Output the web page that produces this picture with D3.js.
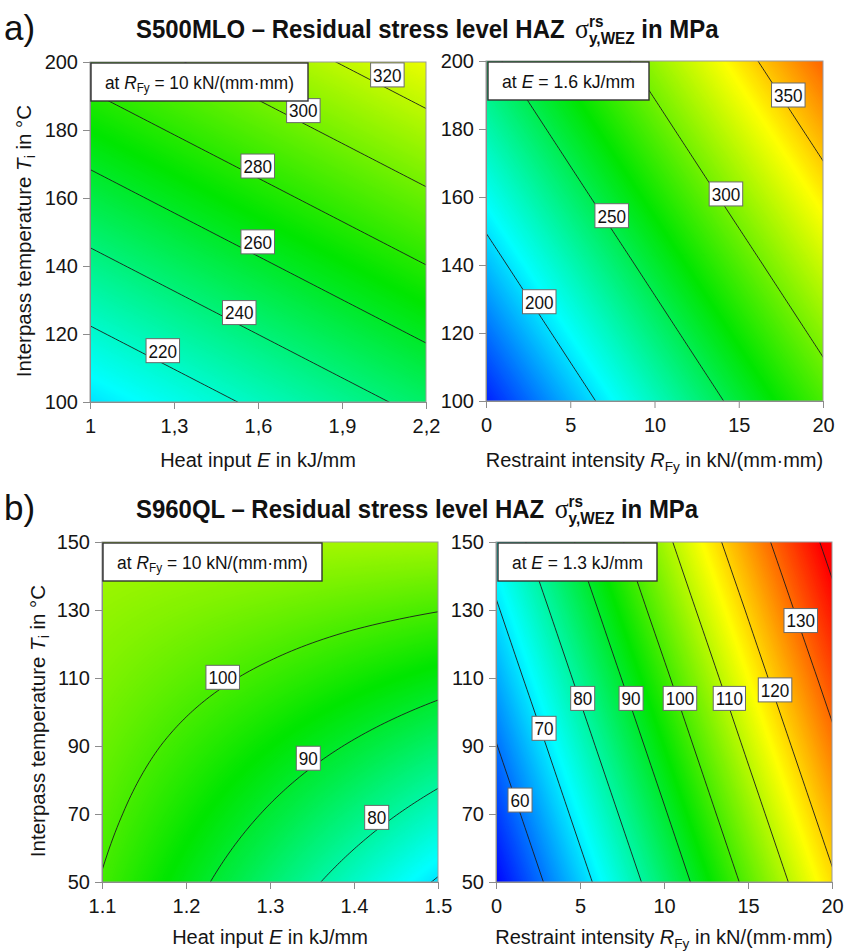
<!DOCTYPE html>
<html>
<head>
<meta charset="utf-8">
<script src="https://cdn.jsdelivr.net/npm/d3@7"></script>
<style>
  body { margin: 0; background: #fff; }
  text { font-family: "Liberation Sans", Arial, sans-serif; }
</style>
</head>
<body>
<svg id="chart" width="853" height="952"></svg>
<script>
// values (stress in MPa at grid nodes, rows = temperature)

// a) S500MLO, left: heat input vs interpass temperature
const aLeftHeat = [1, 1.3, 1.6, 1.9, 2.2];
const aLeftTemp = [100, 120, 140, 160, 180, 200];
const aLeftStress = [
  [200.5, 211.6, 222.7, 233.8, 244.9],
  [217.9, 229.0, 240.1, 251.2, 262.3],
  [235.3, 246.4, 257.5, 268.6, 279.7],
  [252.7, 263.8, 274.9, 286.0, 297.1],
  [270.1, 281.2, 292.3, 303.4, 314.5],
  [287.5, 298.6, 309.7, 320.8, 331.9]
];
const aLeftLevels = [220, 240, 260, 280, 300, 320];
// [level, E, T] where the label box sits
const aLeftLabels = [[320, 2.062, 196.2], [300, 1.762, 185.7], [280, 1.599, 169.4],
                     [260, 1.599, 147.1], [240, 1.533, 126.3], [220, 1.26, 115.1]];

// a) S500MLO, right: restraint intensity vs interpass temperature
const aRightRestraint = [0, 5, 10, 15, 20];
const aRightTemp = [100, 120, 140, 160, 180, 200];
const aRightStress = [
  [157.2, 190.1, 223.0, 255.9, 288.8],
  [174.5, 207.4, 240.3, 273.2, 306.1],
  [191.8, 224.7, 257.6, 290.5, 323.4],
  [209.2, 242.1, 275.0, 307.9, 340.8],
  [226.5, 259.4, 292.3, 325.2, 358.1],
  [243.8, 276.7, 309.6, 342.5, 375.4]
];
const aRightLevels = [200, 250, 300, 350];
const aRightLabels = [[350, 17.94, 190], [300, 14.24, 160.9], [250, 7.46, 154.5], [200, 3.16, 129.2]];

// b) S960QL, left
const bLeftHeat = [1.1, 1.2, 1.3, 1.4, 1.5];
const bLeftTemp = [50, 70, 90, 110, 130, 150];
const bLeftStress = [
  [99.7, 92.2, 84.6, 77.0, 69.4],
  [101.5, 95.4, 89.3, 83.2, 77.1],
  [103.2, 98.6, 94.0, 89.4, 84.8],
  [105.0, 101.9, 98.8, 95.6, 92.5],
  [106.7, 105.1, 103.5, 101.8, 100.2],
  [108.4, 108.3, 108.2, 108.1, 107.9]
];
const bLeftLevels = [70, 80, 90, 100];
const bLeftLabels = [[100, 1.2437, 110.2], [90, 1.3456, 86.4], [80, 1.427, 69.0]];

// b) S960QL, right
const bRightRestraint = [0, 5, 10, 15, 20];
const bRightTemp = [50, 70, 90, 110, 130, 150];
const bRightStress = [
  [50.3, 67.5, 84.6, 101.8, 118.9],
  [55.0, 72.2, 89.3, 106.5, 123.6],
  [59.7, 76.9, 94.0, 111.2, 128.3],
  [64.5, 81.6, 98.7, 115.9, 133.0],
  [69.2, 86.3, 103.5, 120.6, 137.8],
  [73.9, 91.1, 108.2, 125.4, 142.5]
];
const bRightLevels = [60, 70, 80, 90, 100, 110, 120, 130, 140];
const bRightLabels = [[130, 18.14, 126.9], [120, 16.61, 106.5], [110, 13.89, 104.0], [100, 10.95, 104.0],
                      [90, 8.04, 104.0], [80, 5.16, 104.0], [70, 2.86, 95.2], [60, 1.43, 74.1]];

// tick labels
const aHeatTicks = [1, 1.3, 1.6, 1.9, 2.2];
const aTempTicks = [100, 120, 140, 160, 180, 200];
const bHeatTicks = [1.1, 1.2, 1.3, 1.4, 1.5];
const bTempTicks = [50, 70, 90, 110, 130, 150];
const restraintTicks = [0, 5, 10, 15, 20];

// colour stops of the rainbow map, and where they sit for each row
const rainbow = ["#0000ff", "#00ffff", "#00e600", "#ffff00", "#ff0000"];
const aColorStops = [150, 207, 270, 337, 400];
const bColorStops = [50, 72, 94, 116, 140];

const FONT = '"Liberation Sans", Arial, sans-serif';
const svg = d3.select("#chart");
const colorA = d3.scaleLinear().domain(aColorStops).range(rainbow).clamp(true);
const colorB = d3.scaleLinear().domain(bColorStops).range(rainbow).clamp(true);

// bilinear lookup in the grid (extrapolates linearly past the edge)
function makeSampler(xs, ys, z) {
  const ix = d3.scaleLinear().domain(xs).range(d3.range(xs.length));
  const iy = d3.scaleLinear().domain(ys).range(d3.range(ys.length));
  return function(x, y) {
    const fx = ix(x), fy = iy(y);
    const i = Math.max(0, Math.min(xs.length - 2, Math.floor(fx)));
    const j = Math.max(0, Math.min(ys.length - 2, Math.floor(fy)));
    const tx = fx - i, ty = fy - j;
    return z[j][i] * (1 - tx) * (1 - ty) + z[j][i + 1] * tx * (1 - ty) +
           z[j + 1][i] * (1 - tx) * ty + z[j + 1][i + 1] * tx * ty;
  };
}

// text with italic symbol + subscript pieces: parts = [[str, style], ...]
function richText(sel, parts, size) {
  let shifted = 0;
  parts.forEach(([str, style]) => {
    const ts = sel.append("tspan").text(str);
    if (style === "i") ts.attr("font-style", "italic");
    if (style === "sub") {
      ts.attr("font-size", size * 0.68).attr("dy", size * 0.18);
      shifted = size * 0.18;
    } else if (shifted) {
      ts.attr("dy", -shifted);
      shifted = 0;
    }
  });
}

let clipId = 0;
function drawPanel(p) {
  const g = svg.append("g");
  const x = d3.scaleLinear().domain(p.xDomain).range([p.left, p.left + p.w]);
  const y = d3.scaleLinear().domain(p.yDomain).range([p.top + p.h, p.top]);
  const f = makeSampler(p.xs, p.ys, p.z);

  // sample on a fine pixel grid a little bigger than the plot, clip later
  const step = 2, pad = 4;
  const nx = Math.ceil(p.w / step) + 2 * pad, ny = Math.ceil(p.h / step) + 2 * pad;
  const gx0 = p.left - pad * step, gy0 = p.top - pad * step;
  const values = new Float64Array(nx * ny);
  for (let j = 0; j < ny; j++) {
    for (let i = 0; i < nx; i++) {
      values[j * nx + i] = f(x.invert(gx0 + (i + 0.5) * step), y.invert(gy0 + (j + 0.5) * step));
    }
  }
  const path = d3.geoPath(d3.geoIdentity().scale(step).translate([gx0, gy0]));

  const id = "clip" + (clipId++);
  svg.append("clipPath").attr("id", id).append("rect")
    .attr("x", p.left).attr("y", p.top).attr("width", p.w).attr("height", p.h);
  const plot = g.append("g").attr("clip-path", `url(#${id})`);

  // smooth colour field as many thin filled bands
  const [vmin, vmax] = d3.extent(values);
  const bandStep = (vmax - vmin) / 240;
  const bands = d3.range(vmin - bandStep, vmax + bandStep, bandStep);
  plot.append("g").selectAll("path")
    .data(d3.contours().size([nx, ny]).thresholds(bands)(values))
    .join("path")
    .attr("d", path)
    .attr("fill", d => p.color(d.value + bandStep / 2))
    .attr("stroke", d => p.color(d.value + bandStep / 2))
    .attr("stroke-width", 0.4);

  // contour lines
  plot.append("g").selectAll("path")
    .data(d3.contours().size([nx, ny]).thresholds(p.levels)(values))
    .join("path")
    .attr("d", path)
    .attr("fill", "none")
    .attr("stroke", "#1c1c1c")
    .attr("stroke-width", 0.9);

  // frame
  g.append("rect").attr("x", p.left).attr("y", p.top).attr("width", p.w).attr("height", p.h)
    .attr("fill", "none").attr("stroke", "#9a9a9a").attr("stroke-width", 1);

  // contour labels (slightly condensed like the picture)
  const lab = g.append("g").selectAll("g").data(p.labels).join("g")
    .attr("transform", d => `translate(${x(d[1])},${y(d[2])})`);
  lab.append("text")
    .attr("text-anchor", "middle").attr("dy", "0.36em")
    .attr("transform", "scale(0.9,1)")
    .attr("font-size", 19).attr("fill", "#111")
    .text(d => d[0]);
  lab.each(function() {
    const t = d3.select(this).select("text");
    const w = t.node().getComputedTextLength() * 0.9 + 5;
    d3.select(this).insert("rect", "text")
      .attr("x", -w / 2).attr("y", -12).attr("width", w).attr("height", 24)
      .attr("fill", "#fff").attr("stroke", "#6a6a6a").attr("stroke-width", 1);
  });

  // axes
  const styleAxis = sel => {
    sel.attr("font-size", 20).attr("font-family", FONT);
    sel.select(".domain").attr("stroke", "#8c8c8c");
    sel.selectAll(".tick line").attr("stroke", "#8c8c8c");
    sel.selectAll(".tick text").attr("fill", "#151515");
  };
  g.append("g").attr("transform", `translate(0,${p.top + p.h})`)
    .call(d3.axisBottom(x).tickValues(p.xTicks).tickFormat(p.xFormat)
      .tickSize(7).tickPadding(10).tickSizeOuter(0))
    .call(styleAxis);
  g.append("g").attr("transform", `translate(${p.left},0)`)
    .call(d3.axisLeft(y).tickValues(p.yTicks).tickFormat(d3.format("d"))
      .tickSize(7).tickPadding(5).tickSizeOuter(0))
    .call(styleAxis);

  // x title
  const xt = g.append("text").attr("x", p.left + p.w / 2).attr("y", p.top + p.h + p.xTitleGap)
    .attr("text-anchor", "middle").attr("font-size", 20).attr("fill", "#151515");
  richText(xt, p.xTitle, 20);

  // y title (left panels only)
  if (p.yTitleX) {
    const yt = g.append("text")
      .attr("transform", `translate(${p.yTitleX},${p.top + p.h / 2 + 9}) rotate(-90)`)
      .attr("text-anchor", "middle").attr("font-size", 20.5).attr("fill", "#151515");
    richText(yt, [["Interpass temperature "], ["T", "i"], ["i", "sub"], [" in °C"]], 20.5);
  }

  // "at ..." box, text squeezed to fit it
  g.append("rect").attr("x", p.note.x).attr("y", p.top + 1).attr("width", p.note.w).attr("height", 38)
    .attr("fill", "#fff").attr("stroke", "#333").attr("stroke-width", 1.4);
  const nt = g.append("text").attr("font-size", 19).attr("fill", "#111");
  richText(nt, p.note.parts, 19);
  const kn = (p.note.w - 28) / nt.node().getBBox().width;
  nt.attr("transform", `translate(${p.note.x + 14},${p.top + 27}) scale(${kn},1)`);
}

function drawTitle(letter, steel, baseline, scaleX) {
  svg.append("text").attr("x", 4).attr("y", baseline + 2).attr("font-size", 35).attr("fill", "#111").text(letter);
  const t = svg.append("text").attr("font-weight", "bold").attr("font-size", 25).attr("fill", "#111")
    .attr("transform", `translate(136,${baseline}) scale(${scaleX},1)`);
  t.append("tspan").text(`${steel} – Residual stress level HAZ `);
  t.append("tspan").attr("font-family", '"Liberation Serif", serif').attr("font-weight", "normal")
    .attr("font-size", 27).attr("dx", 4).text("σ");
  const sup = t.append("tspan").attr("font-size", 16).attr("dy", -11).text("rs");
  const supW = sup.node().getComputedTextLength();
  t.append("tspan").attr("font-size", 16).attr("dy", 17).attr("dx", -supW).text("y,WEZ");
  t.append("tspan").attr("dy", -6).text(" in MPa");
  return t;
}

const fmtComma = d => d3.format(".1f")(d).replace(".0", "").replace(".", ",");
const fmtDot = d3.format(".1f");
const heatTitle = [["Heat input "], ["E", "i"], [" in kJ/mm"]];
const restraintTitle = [["Restraint intensity "], ["R", "i"], ["Fy", "sub"], [" in kN/(mm·mm)"]];
const noteR = [["at "], ["R", "i"], ["Fy", "sub"], [" = 10 kN/(mm·mm)"]];

drawPanel({ left: 90, top: 62, w: 336, h: 340, xDomain: [1, 2.2], yDomain: [100, 200],
  xs: aLeftHeat, ys: aLeftTemp, z: aLeftStress, levels: aLeftLevels, labels: aLeftLabels,
  color: colorA, xTicks: aHeatTicks, yTicks: aTempTicks, xFormat: fmtComma, xTitleGap: 65,
  xTitle: heatTitle, yTitleX: 31, note: { x: 91, w: 217, parts: noteR } });

drawPanel({ left: 486, top: 61, w: 337, h: 340, xDomain: [0, 20], yDomain: [100, 200],
  xs: aRightRestraint, ys: aRightTemp, z: aRightStress, levels: aRightLevels, labels: aRightLabels,
  color: colorA, xTicks: restraintTicks, yTicks: aTempTicks, xFormat: d3.format("d"), xTitleGap: 66,
  xTitle: restraintTitle, note: { x: 488, w: 161, parts: [["at "], ["E", "i"], [" = 1.6 kJ/mm"]] } });

drawPanel({ left: 102, top: 542, w: 336, h: 340, xDomain: [1.1, 1.5], yDomain: [50, 150],
  xs: bLeftHeat, ys: bLeftTemp, z: bLeftStress, levels: bLeftLevels, labels: bLeftLabels,
  color: colorB, xTicks: bHeatTicks, yTicks: bTempTicks, xFormat: fmtDot, xTitleGap: 62,
  xTitle: heatTitle, yTitleX: 45, note: { x: 103, w: 219, parts: noteR } });

drawPanel({ left: 496, top: 542, w: 336, h: 340, xDomain: [0, 20], yDomain: [50, 150],
  xs: bRightRestraint, ys: bRightTemp, z: bRightStress, levels: bRightLevels, labels: bRightLabels,
  color: colorB, xTicks: restraintTicks, yTicks: bTempTicks, xFormat: d3.format("d"), xTitleGap: 62,
  xTitle: restraintTitle, note: { x: 498, w: 159, parts: [["at "], ["E", "i"], [" = 1.3 kJ/mm"]] } });

// titles: squeeze so that row a ends at x = 720 like the picture
const ta = drawTitle("a)", "S500MLO", 38, 1);
const k = (720 - 136) / ta.node().getBBox().width;
ta.attr("transform", `translate(136,38) scale(${k},1)`);
drawTitle("b)", "S960QL", 518, k);
</script>
</body>
</html>
